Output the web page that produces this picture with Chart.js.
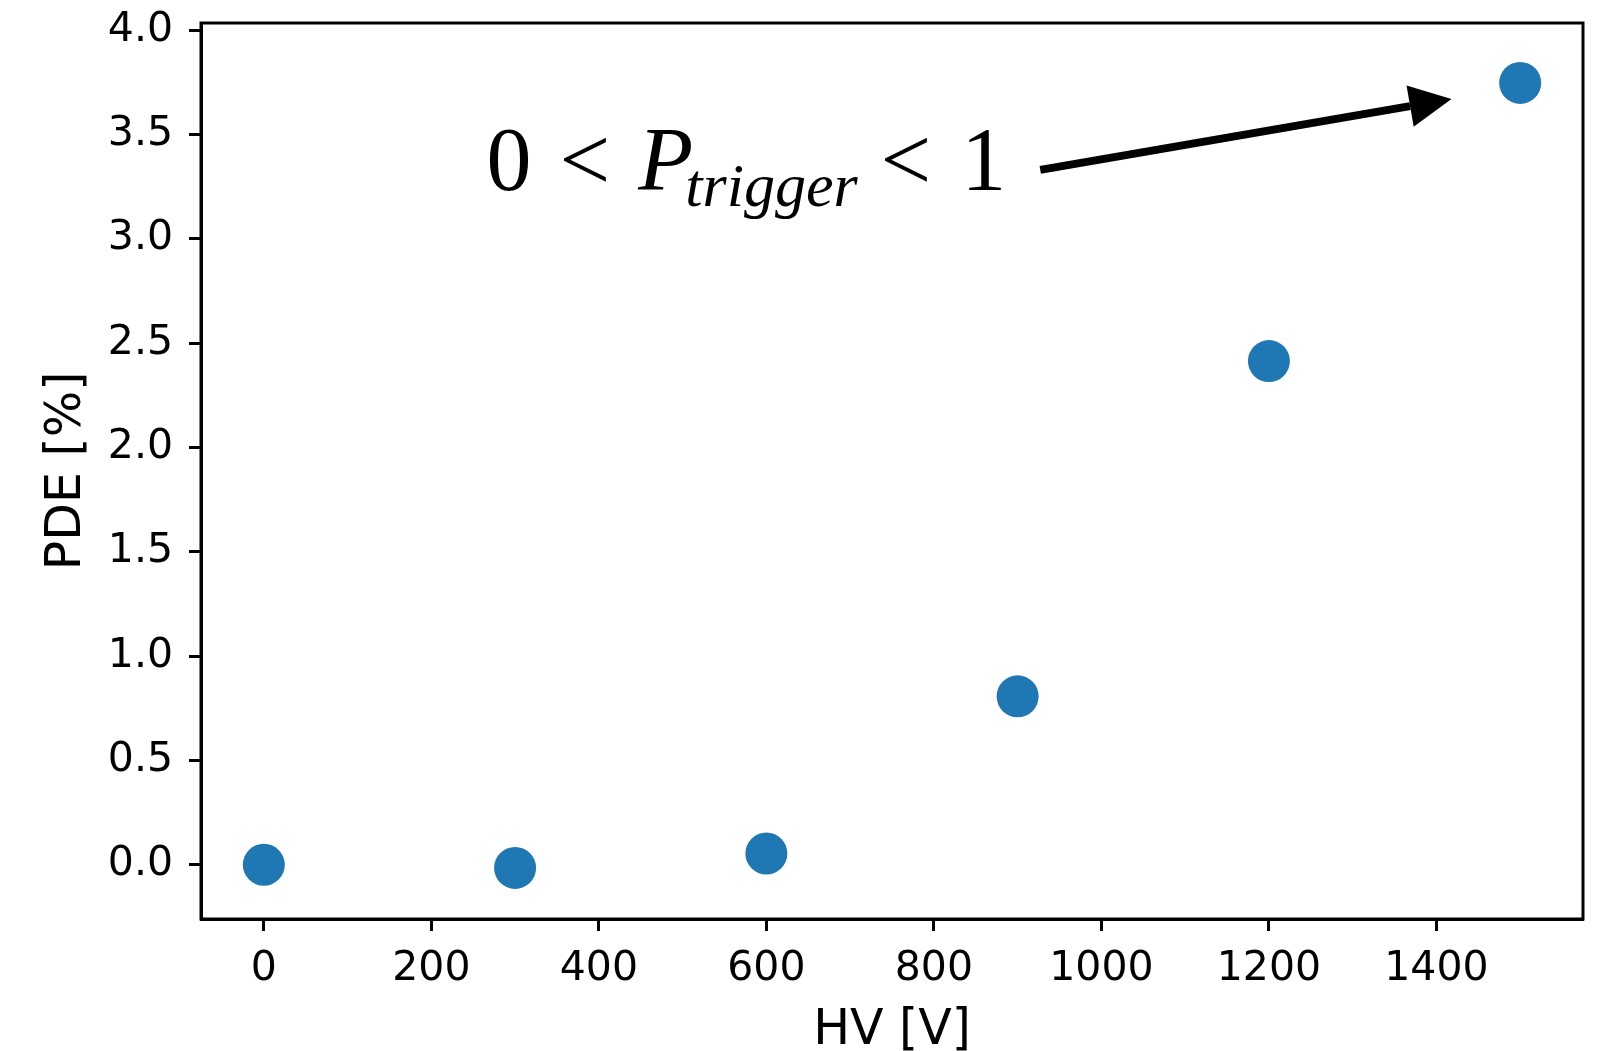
<!DOCTYPE html>
<html>
<head>
<meta charset="utf-8">
<script src="https://cdn.jsdelivr.net/npm/chart.js@4.4.1/dist/chart.umd.min.js"></script>
<style>
  html, body { margin: 0; padding: 0; background: #fff; }
  #wrap { width: 1599px; height: 1051px; }
</style>
</head>
<body>
<div id="wrap"><canvas id="chartCanvas" width="1599" height="1051"></canvas></div>
<script>
// measured values
const hv = [0, 300, 600, 900, 1200, 1500];
const pde = [0.0, -0.015, 0.054, 0.807, 2.414, 3.747];
const xTicks = [0, 200, 400, 600, 800, 1000, 1200, 1400];
const yTicks = [0, 0.5, 1.0, 1.5, 2.0, 2.5, 3.0, 3.5, 4.0];

// annotation, in data units
const noteAt = [266, 3.235];
const arrowFrom = [927, 3.33];
const arrowTo = [1418, 3.67];

const frame = {
  id: 'frame',
  afterDraw(c) {
    const ctx = c.ctx;
    const a = c.chartArea;
    const xs = c.scales.x, ys = c.scales.y;
    ctx.save();
    ctx.strokeStyle = '#000';
    ctx.lineWidth = 3;
    ctx.strokeRect(a.left, a.top, a.right - a.left, a.bottom - a.top);

    // text: 0 < P_trigger < 1
    let x = xs.getPixelForValue(noteAt[0]);
    const base = ys.getPixelForValue(noteAt[1]);
    ctx.fillStyle = '#000';
    ctx.textBaseline = 'alphabetic';
    const big = '90px "Liberation Serif"';
    const bigIt = 'italic 90px "Liberation Serif"';
    const sub = 'italic 62px "Liberation Serif"';
    const part = (s, f, dy, gap) => {
      ctx.font = f;
      ctx.fillText(s, x, base + dy);
      x += ctx.measureText(s).width + gap;
    };
    part('0', big, 0, 28);
    part('<', big, 0, 28);
    part('P', bigIt, 0, -8);
    part('trigger', sub, 16, 23);
    part('<', big, 0, 30);
    part('1', big, 0, 0);

    // arrow
    const x0 = xs.getPixelForValue(arrowFrom[0]), y0 = ys.getPixelForValue(arrowFrom[1]);
    const x1 = xs.getPixelForValue(arrowTo[0]), y1 = ys.getPixelForValue(arrowTo[1]);
    const ang = Math.atan2(y1 - y0, x1 - x0);
    const hl = 42, hw = 21;
    const bx = x1 - hl * Math.cos(ang), by = y1 - hl * Math.sin(ang);
    ctx.lineWidth = 8;
    ctx.beginPath();
    ctx.moveTo(x0, y0);
    ctx.lineTo(bx, by);
    ctx.stroke();
    ctx.beginPath();
    ctx.moveTo(x1, y1);
    ctx.lineTo(bx + hw * Math.sin(ang), by - hw * Math.cos(ang));
    ctx.lineTo(bx - hw * Math.sin(ang), by + hw * Math.cos(ang));
    ctx.closePath();
    ctx.fill();
    ctx.restore();
  }
};

Chart.defaults.font.family = '"DejaVu Sans"';
Chart.defaults.color = '#000';

const ctx = document.getElementById('chartCanvas').getContext('2d');
new Chart(ctx, {
  type: 'scatter',
  data: {
    datasets: [{
      data: hv.map((v, i) => ({ x: v, y: pde[i] })),
      backgroundColor: '#1f77b4',
      borderWidth: 0,
      pointRadius: 21,
      pointHoverRadius: 21
    }]
  },
  options: {
    responsive: false,
    animation: false,
    layout: { autoPadding: false, padding: { top: 23, right: 16, left: 0, bottom: 0 } },
    plugins: { legend: { display: false }, tooltip: { enabled: false } },
    scales: {
      x: {
        type: 'linear',
        min: -75,
        max: 1575,
        afterBuildTicks: s => { s.ticks = xTicks.map(v => ({ value: v })); },
        afterFit: s => { s.height = 132; s.paddingLeft = 0; s.paddingRight = 0; },
        grid: { drawOnChartArea: false, tickLength: 12, tickWidth: 3, tickColor: '#000' },
        border: { color: '#000', width: 3 },
        ticks: { font: { size: 41 }, padding: 14, maxRotation: 0, callback: v => String(v) },
        title: { display: true, text: 'HV [V]', font: { size: 49, lineHeight: 0.8 }, padding: { top: 0, bottom: 0 } }
      },
      y: {
        min: -0.26,
        max: 4.034,
        afterBuildTicks: s => { s.ticks = yTicks.map(v => ({ value: v })); },
        afterFit: s => { s.width = 201; s.paddingTop = 0; s.paddingBottom = 0; },
        grid: { drawOnChartArea: false, tickLength: 12, tickWidth: 3, tickColor: '#000' },
        border: { color: '#000', width: 3 },
        ticks: { font: { size: 41 }, padding: 16, callback: v => v.toFixed(1) },
        title: { display: true, text: 'PDE [%]', font: { size: 49, lineHeight: 1 }, padding: { top: 43, bottom: 0 } }
      }
    }
  },
  plugins: [frame]
});
</script>
</body>
</html>
